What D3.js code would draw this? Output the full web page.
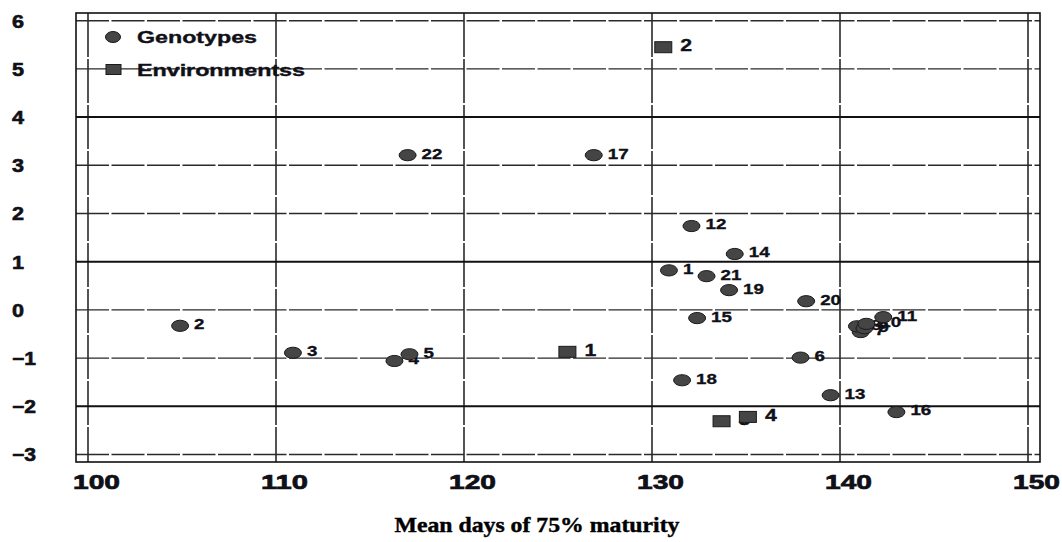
<!DOCTYPE html>
<html>
<head>
<meta charset="utf-8">
<script src="https://cdn.jsdelivr.net/npm/d3@7/dist/d3.min.js"></script>
<style>
  body { margin: 0; background: #fff; }
  text { font-family: "Liberation Sans", Arial, sans-serif; font-weight: bold; fill: #101018; stroke: #101018; stroke-width: 0.35; }
</style>
</head>
<body>
<svg id="chart" width="1062" height="542"></svg>
<script>
// GGE-style biplot: mean days to 75% maturity vs. PC score
const genotypeIds    = [1, 2, 3, 4, 5, 6, 7, 8, 9, 10, 11, 12, 13, 14, 15, 16, 17, 18, 19, 20, 21, 22];
const genotypeDays   = [130.9, 104.9, 110.9, 116.3, 117.1, 137.9, 141.1, 140.9, 141.3, 141.4, 142.3, 132.1, 139.5, 134.4, 132.4, 143.0, 126.9, 131.6, 134.1, 138.2, 132.9, 117.0];
const genotypeScores = [0.82, -0.33, -0.89, -1.06, -0.92, -0.99, -0.46, -0.34, -0.38, -0.29, -0.15, 1.74, -1.77, 1.16, -0.17, -2.12, 3.21, -1.46, 0.41, 0.18, 0.70, 3.21];

const environmentIds    = [1, 2, 3, 4];
const environmentDays   = [125.5, 130.6, 133.7, 135.1];
const environmentScores = [-0.87, 5.45, -2.31, -2.22];

const xTicks = [100, 110, 120, 130, 140, 150];
const yTicks = [6, 5, 4, 3, 2, 1, 0, -1, -2, -3];
const yMajor = [4, 1, -2];
const legendLabels = ["Genotypes", "Environmentss"];
const xTitle = "Mean days of 75% maturity";

const svg = d3.select("#chart");

const x = d3.scaleLinear().domain([100, 150]).range([88, 1028]);
const y = d3.scaleLinear().domain([-3, 6]).range([454.5, 20.7]);

// plot frame sits a little outside the outer ticks
const frame = { left: 76, right: 1040, top: 13, bottom: 462 };

// grid
const grid = svg.append("g");
grid.selectAll("line.v").data(xTicks).join("line")
  .attr("x1", d => x(d)).attr("x2", d => x(d))
  .attr("y1", frame.top).attr("y2", frame.bottom)
  .attr("stroke", "#2a2a2a").attr("stroke-width", 1.6)
  .attr("stroke-dasharray", "44,2");
grid.selectAll("line.h").data(yTicks).join("line")
  .attr("x1", frame.left).attr("x2", frame.right)
  .attr("y1", d => y(d)).attr("y2", d => y(d))
  .attr("stroke", d => yMajor.includes(d) ? "#111" : "#2a2a2a")
  .attr("stroke-width", d => yMajor.includes(d) ? 2 : 1.4)
  .attr("stroke-dasharray", d => yMajor.includes(d) ? null : "33,2.5");

svg.append("rect")
  .attr("x", frame.left).attr("y", frame.top)
  .attr("width", frame.right - frame.left).attr("height", frame.bottom - frame.top)
  .attr("fill", "none").attr("stroke", "#111").attr("stroke-width", 1.6);

// y axis labels, left aligned
const yAxis = svg.append("g").call(d3.axisLeft(y).tickValues(yTicks).tickSize(0));
yAxis.select(".domain").remove();
yAxis.selectAll("text")
  .attr("x", 12).attr("dy", "0.36em")
  .attr("text-anchor", "start")
  .attr("font-size", 18)
  .attr("textLength", d => String(d).length * 12)
  .attr("lengthAdjust", "spacingAndGlyphs")
  .style("font-family", "'Liberation Sans', Arial, sans-serif")
  .style("font-weight", "bold")
  .style("fill", "#101018")
  .style("stroke", "#101018").style("stroke-width", 0.6);

// x axis labels
const xAxis = svg.append("g").attr("transform", `translate(0,${frame.bottom})`)
  .call(d3.axisBottom(x).tickValues(xTicks).tickSize(0));
xAxis.select(".domain").remove();
xAxis.selectAll("text")
  .attr("x", 8).attr("y", 27).attr("dy", null)
  .attr("text-anchor", "middle")
  .attr("font-size", 21)
  .attr("textLength", 47)
  .attr("lengthAdjust", "spacingAndGlyphs")
  .style("font-family", "'Liberation Sans', Arial, sans-serif")
  .style("font-weight", "bold")
  .style("fill", "#101018")
  .style("stroke", "#101018").style("stroke-width", 0.7);

// axis title
svg.append("text")
  .attr("x", 537).attr("y", 532)
  .attr("text-anchor", "middle")
  .attr("font-size", 21)
  .attr("textLength", 285)
  .attr("lengthAdjust", "spacingAndGlyphs")
  .style("font-family", "'Liberation Serif', 'Times New Roman', serif")
  .style("font-weight", "bold")
  .style("fill", "#000").style("stroke", "#000").style("stroke-width", 0.4)
  .text(xTitle);

const markFill = "#454545", markStroke = "#1a1a1a";

// genotypes: each marker followed by its label, so later markers overlap earlier labels
const genotypes = genotypeIds.map((id, i) => ({ id, days: genotypeDays[i], score: genotypeScores[i] }));
genotypes.forEach(d => {
  const cx = x(d.days), cy = y(d.score);
  svg.append("ellipse")
    .attr("cx", cx).attr("cy", cy).attr("rx", 8.5).attr("ry", 5.6)
    .attr("fill", markFill).attr("stroke", markStroke).attr("stroke-width", 1);
  svg.append("text")
    .attr("transform", `translate(${cx + 14},${cy - 2}) scale(1.25,1)`)
    .attr("dy", "0.36em").attr("font-size", 15)
    .text(d.id);
});

// environments
const environments = environmentIds.map((id, i) => ({ id, days: environmentDays[i], score: environmentScores[i] }));
environments.forEach(d => {
  const cx = x(d.days), cy = y(d.score);
  svg.append("rect")
    .attr("x", cx - 8.5).attr("y", cy - 5.5).attr("width", 17).attr("height", 11)
    .attr("fill", markFill).attr("stroke", markStroke).attr("stroke-width", 1);
  svg.append("text")
    .attr("transform", `translate(${cx + 17},${cy - 2}) scale(1.25,1)`)
    .attr("dy", "0.36em").attr("font-size", 17)
    .text(d.id);
});

// legend
const legend = svg.append("g");
legend.append("ellipse").attr("cx", 113).attr("cy", 37).attr("rx", 7.5).attr("ry", 5.5)
  .attr("fill", markFill).attr("stroke", markStroke);
legend.append("rect").attr("x", 106).attr("y", 64.5).attr("width", 15).attr("height", 10)
  .attr("fill", markFill).attr("stroke", markStroke);
legend.selectAll("text.lbl").data(legendLabels).join("text")
  .attr("x", 137).attr("y", (d, i) => 37 + i * 33)
  .attr("dy", "0.36em").attr("font-size", 16)
  .attr("textLength", (d, i) => [120, 168][i])
  .attr("lengthAdjust", "spacingAndGlyphs")
  .text(d => d);
</script>
</body>
</html>
